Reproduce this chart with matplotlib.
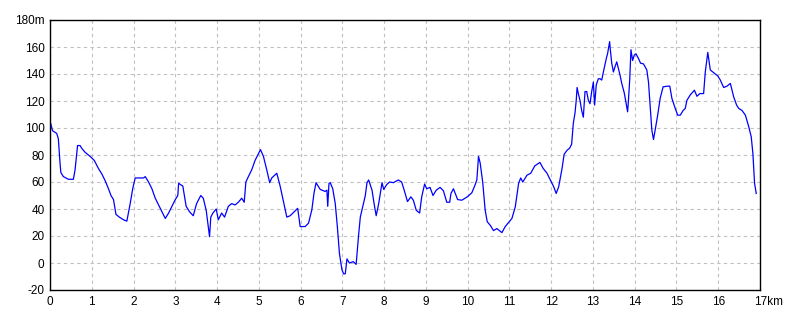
import matplotlib
matplotlib.use("Agg")
import matplotlib.pyplot as plt
from matplotlib.transforms import ScaledTranslation

# elevation profile (km, m)
dist = [0, 0.02, 0.06, 0.16, 0.2, 0.24, 0.26, 0.32, 0.44, 0.56,
        0.6, 0.66, 0.72, 0.76, 0.84, 0.96, 1.06, 1.16, 1.24, 1.32,
        1.40, 1.46, 1.52, 1.58, 1.66, 1.76, 1.84, 1.92, 1.98, 2.04,
        2.24, 2.28, 2.36, 2.44, 2.52, 2.60, 2.68, 2.76, 2.84, 2.92,
        3.0, 3.06, 3.08, 3.18, 3.26, 3.34, 3.43, 3.51, 3.61, 3.67,
        3.74, 3.79, 3.82, 3.85, 3.90, 3.98, 4.03, 4.11, 4.18, 4.27,
        4.35, 4.43, 4.51, 4.59, 4.65, 4.69, 4.75, 4.83, 4.91, 4.99,
        5.04, 5.11, 5.19, 5.26, 5.31, 5.43, 5.51, 5.59, 5.67, 5.75,
        5.93, 5.99, 6.11, 6.19, 6.27, 6.32, 6.37, 6.47, 6.59, 6.63,
        6.65, 6.68, 6.71, 6.77, 6.83, 6.88, 6.93, 6.99, 7.03, 7.07,
        7.11, 7.17, 7.26, 7.33, 7.39, 7.43, 7.49, 7.55, 7.59, 7.63,
        7.71, 7.76, 7.81, 7.87, 7.95, 7.99, 8.06, 8.13, 8.22, 8.34,
        8.42, 8.48, 8.56, 8.64, 8.70, 8.77, 8.85, 8.90, 8.97, 9.02,
        9.10, 9.17, 9.25, 9.34, 9.42, 9.50, 9.57, 9.60, 9.66, 9.76,
        9.86, 9.99, 10.10, 10.18, 10.22, 10.26, 10.30, 10.36, 10.42, 10.47,
        10.54, 10.62, 10.70, 10.82, 10.90, 10.98, 11.06, 11.14, 11.22, 11.27,
        11.32, 11.42, 11.51, 11.61, 11.73, 11.81, 11.90, 11.98, 12.06, 12.12,
        12.18, 12.26, 12.31, 12.38, 12.44, 12.49, 12.53, 12.57, 12.60, 12.62,
        12.65, 12.69, 12.73, 12.77, 12.79, 12.81, 12.85, 12.89, 12.93, 12.97,
        13.01, 13.04, 13.08, 13.13, 13.17, 13.21, 13.25, 13.32, 13.35, 13.40,
        13.41, 13.45, 13.49, 13.53, 13.57, 13.61, 13.65, 13.69, 13.75, 13.80,
        13.83, 13.85, 13.88, 13.91, 13.95, 13.99, 14.03, 14.09, 14.14, 14.21,
        14.29, 14.33, 14.37, 14.41, 14.45, 14.49, 14.55, 14.61, 14.68, 14.79,
        14.84, 14.89, 14.97, 15.03, 15.09, 15.16, 15.21, 15.25, 15.33, 15.43,
        15.49, 15.56, 15.65, 15.69, 15.75, 15.81, 15.89, 15.99, 16.05, 16.13,
        16.21, 16.29, 16.37, 16.44, 16.49, 16.57, 16.65, 16.73, 16.79, 16.83,
        16.87, 16.91]
elev = [104, 103, 98, 96, 92, 74, 67, 64, 62, 62,
        69, 87, 87, 85, 82, 79, 76, 70, 66, 61,
        55, 50, 47, 36, 34, 32, 31, 44, 55, 63,
        63, 64, 60, 55, 48, 43, 38, 33, 37, 42,
        47, 50, 59, 57, 42, 38, 35, 44, 50, 48,
        39, 27, 19.5, 34, 37, 40, 32, 37, 34, 42,
        44, 43, 45, 48, 45, 60, 64, 69, 76, 81,
        84, 79, 69, 59.5, 63, 66.5, 57, 45.5, 34, 35,
        40.5, 27, 27, 29.5, 39.5, 51.5, 59.5, 54.5, 53, 54,
        42, 59, 59.5, 55, 44, 27, 7, -5, -8, -8,
        3, 0, 1, -1, 21, 34, 42, 50, 59.5, 61.5,
        54, 44, 35, 44, 59.5, 54.5, 58, 60, 59.5, 61.5,
        60, 54, 45.5, 49, 46.5, 39, 37, 49, 58.5, 55,
        56, 50, 54, 56, 53.5, 45, 45, 51.5, 55, 47,
        46.5, 49, 52, 58, 61.5, 79, 74, 60, 39, 30.5,
        28, 24, 25.5, 22.5, 27, 30, 33, 41.5, 59, 63,
        60, 65, 66.5, 72, 74.5, 70, 66.5, 61.5, 56.5, 51.5,
        56.5, 70, 80.5, 83.5, 85, 88, 103.5, 111, 120.5, 130,
        125.5, 120.5, 113, 108, 118, 127, 127, 120.5, 118, 127,
        134, 117, 132, 136.5, 136.5, 135.5, 141.5, 151.5, 155, 164,
        160, 148, 141.5, 145.5, 149, 144, 139, 133, 126, 117,
        112, 120.5, 135.5, 158, 150, 154, 155, 151.5, 148, 147.5,
        143, 134, 116, 98.5, 91.5, 98.5, 109.5, 122, 130.5, 131,
        131, 122, 114.5, 109.5, 109.5, 113, 114.5, 120.5, 124.5, 128,
        123.5, 125.5, 125.5, 141.5, 156, 143, 141, 138.5, 135.5, 130,
        131, 133, 123, 117, 114.5, 113, 109.5, 101, 93.5, 81,
        59, 51.5]

x_ticks = list(range(0, 18))
x_labels = [str(k) for k in range(0, 17)] + ["17km"]
y_ticks = list(range(-20, 181, 20))
y_labels = [str(v) for v in range(-20, 180, 20)] + ["180m"]

plt.rcParams["font.family"] = ["Liberation Sans", "DejaVu Sans"]

fig = plt.figure(figsize=(8, 3.2), dpi=100)
ax = fig.add_axes([50 / 800, 30 / 320, 710 / 800, 270 / 320])

ax.plot(dist, elev, color="#0000ff", lw=0.9)

ax.set_xlim(0, 17)
ax.set_ylim(-20, 180)
ax.set_xticks(x_ticks)
ax.set_xticklabels(x_labels)
ax.set_yticks(y_ticks)
ax.set_yticklabels(y_labels)
ax.tick_params(length=0, labelsize=8.5, colors="black", pad=4)
ax.grid(True, color="#c0c0c0", ls=(0, (3, 3)), lw=0.8)

# keep "17" on its tick, unit hangs to the right
last = ax.get_xticklabels()[-1]
last.set_horizontalalignment("left")
last.set_transform(last.get_transform() + ScaledTranslation(-6 / 100, 0, fig.dpi_scale_trans))

for s in ax.spines.values():
    s.set_color("black")
    s.set_linewidth(1.0)

fig.savefig("out.png", dpi=100)
